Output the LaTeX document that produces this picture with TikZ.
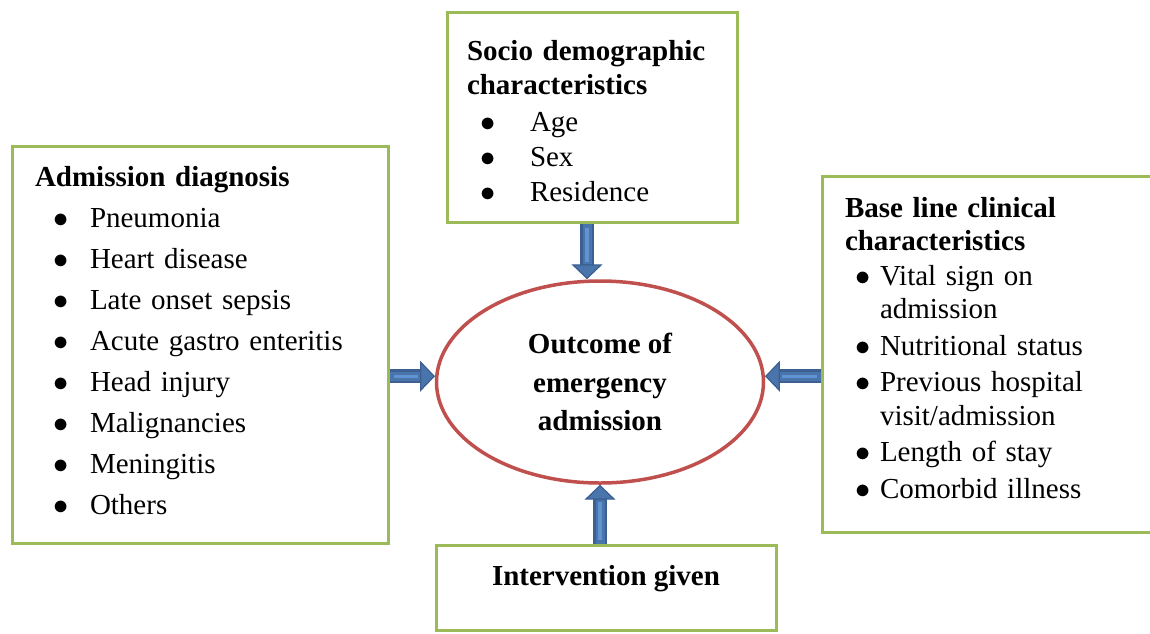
\documentclass[tikz,border=0pt]{standalone}
\usepackage{fontspec}
\setmainfont{Liberation Serif}
\usepackage{enumitem}
\usetikzlibrary{arrows.meta,shapes,positioning,calc}
\definecolor{boxG}{HTML}{9BBB59}
\definecolor{ovalR}{HTML}{C0504D}
\definecolor{arrD}{HTML}{3B6091}
\definecolor{arrM}{HTML}{4A74AC}
\definecolor{arrL}{HTML}{6193D2}
\newlength\pxu
\setlength\pxu{0.02cm}
\setlength\parindent{0pt}
\setlist[itemize]{label=$\bullet$, itemsep=0pt, topsep=0pt, parsep=0pt, partopsep=0pt}

\begin{document}
\begin{tikzpicture}[x=0.02cm, y=-0.02cm,
    box/.style={draw=boxG, line width=3\pxu, fill=white, inner xsep=23\pxu, inner ysep=0pt, align=left},
    flow/.style={draw=arrD, line width=14\pxu,
      -{Triangle[width=17.6pt, length=8.5pt, line width=0.7pt, fill=arrM]},
      postaction={draw=arrM, line width=9\pxu, shorten >=15\pxu, -},
      postaction={draw=arrL, line width=3.5\pxu, shorten >=17\pxu, shorten <=4\pxu, -}}]
  \useasboundingbox (0,0) rectangle (1150,633);

  \node[box, text width=330\pxu, text height=40\pxu, text depth=357\pxu, font=\fontsize{16.5}{23.4}\selectfont] (diag) at (200,344.5) {%
    \textbf{Admission diagnosis}
    \begin{itemize}[leftmargin=55\pxu, labelsep=21\pxu]
      \item Pneumonia
      \item Heart disease
      \item Late onset sepsis
      \item Acute gastro enteritis
      \item Head injury
      \item Malignancies
      \item Meningitis
      \item Others
    \end{itemize}};

  \node[box, inner xsep=20\pxu, text width=250\pxu, text height=48\pxu, text depth=162\pxu, font=\fontsize{16.5}{19.9}\selectfont] (socio) at (592,117) {%
    \textbf{Socio demographic\\characteristics}
    \begin{itemize}[leftmargin=63\pxu, labelsep=34\pxu, topsep=2\pxu]
      \item Age
      \item Sex
      \item Residence
    \end{itemize}};

  \node[box, text width=292\pxu, text height=41\pxu, text depth=315\pxu, font=\fontsize{16.5}{19.1}\selectfont] (base) at (991,354) {%
    \textbf{Base line clinical\\characteristics}
    \begin{itemize}[leftmargin=35\pxu, labelsep=9\pxu, itemsep=3\pxu, topsep=1\pxu]
      \item Vital sign on\newline admission
      \item Nutritional status
      \item Previous hospital\newline visit/admission
      \item Length of stay
      \item Comorbid illness
    \end{itemize}};

  \node[box, align=center, minimum width=340\pxu, text height=40\pxu, text depth=45\pxu, font=\fontsize{16.5}{20}\selectfont\bfseries] (interv) at (606,587.5) {Intervention given};

  \node[ellipse, draw=ovalR, line width=3.5\pxu, minimum width=327\pxu, minimum height=202\pxu, inner sep=0pt, align=center, font=\fontsize{16.5}{22.1}\selectfont\bfseries] (outcome) at (600,382) {Outcome of\\emergency\\admission};

  \draw[flow] ([xshift=-5\pxu]socio.south) -- ([xshift=-5\pxu]socio.south |- outcome.north);
  \draw[flow] (diag.east |- outcome.178) -- (outcome.178);
  \draw[flow] (base.west |- outcome.2) -- (outcome.2);
  \draw[flow] (interv.north -| outcome.south) -- (outcome.south);
\end{tikzpicture}
\end{document}
